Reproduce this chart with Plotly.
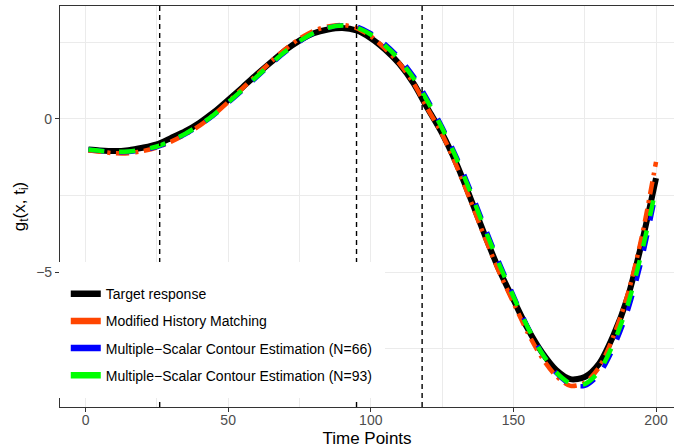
import plotly.graph_objects as go

# ---------------- data ----------------
time_points = [1, 5, 10, 15, 20, 25, 30, 35, 40, 45, 50, 55, 60, 65, 70, 75, 80, 85, 90, 95,
               100, 105, 110, 115, 120, 125, 130, 135, 140, 145, 150, 155, 160, 165, 170, 175,
               180, 185, 190, 195, 200]

target_response = [-1.00, -1.03, -1.05, -1.02, -0.94, -0.83, -0.62, -0.40, -0.12, 0.22,
                   0.62, 1.03, 1.45, 1.85, 2.24, 2.56, 2.80, 2.92, 2.97, 2.89,
                   2.64, 2.27, 1.80, 1.16, 0.33, -0.47, -1.45, -2.60, -3.80, -4.93,
                   -5.90, -6.85, -7.62, -8.20, -8.50, -8.43, -8.00, -7.08, -5.85, -4.05,
                   -1.93]

modified_hm = [-1.02, -1.07, -1.12, -1.12, -1.05, -0.93, -0.74, -0.50, -0.22, 0.14,
               0.55, 1.00, 1.43, 1.87, 2.28, 2.62, 2.88, 3.02, 3.07, 2.97,
               2.70, 2.30, 1.82, 1.17, 0.32, -0.50, -1.52, -2.68, -3.88, -5.00,
               -6.00, -6.98, -7.80, -8.40, -8.72, -8.62, -8.12, -7.12, -5.75, -3.85,
               -1.40]

msce_66 = [-1.00, -1.04, -1.08, -1.08, -1.02, -0.92, -0.73, -0.50, -0.22, 0.12,
           0.52, 0.93, 1.36, 1.78, 2.18, 2.52, 2.80, 2.98, 3.06, 3.02,
           2.80, 2.45, 2.00, 1.40, 0.62, -0.25, -1.22, -2.33, -3.52, -4.68,
           -5.76, -6.78, -7.64, -8.30, -8.68, -8.72, -8.35, -7.50, -6.30, -4.60,
           -2.40]

msce_93 = [-1.00, -1.04, -1.07, -1.06, -1.00, -0.90, -0.71, -0.48, -0.20, 0.14,
           0.54, 0.95, 1.38, 1.80, 2.20, 2.54, 2.81, 2.98, 3.05, 2.99,
           2.76, 2.40, 1.94, 1.33, 0.56, -0.30, -1.28, -2.40, -3.60, -4.74,
           -5.80, -6.80, -7.65, -8.28, -8.64, -8.66, -8.25, -7.35, -6.10, -4.35,
           -2.25]

change_points = [26, 95, 118]

series_names = ["Target response", "Modified History Matching",
                "Multiple\u2212Scalar Contour Estimation (N=66)",
                "Multiple\u2212Scalar Contour Estimation (N=93)"]
series_values = [target_response, modified_hm, msce_66, msce_93]
series_colors = ["#000000", "#FF4500", "#0000FF", "#00FF00"]
series_widths = [6, 4.5, 4.5, 4.5]
series_dash = ["solid", "13px,6px,3px,6px", "16px,15px", "16px,15px"]

x_tick_vals = [0, 50, 100, 150, 200]
y_tick_vals = [-5, 0]

FONT = "Liberation Sans, Arial, Helvetica, sans-serif"

fig = go.Figure()

for name, vals, col, w, d in zip(series_names, series_values, series_colors, series_widths, series_dash):
    fig.add_trace(go.Scatter(x=time_points, y=vals, mode="lines", name=name,
                             line=dict(color=col, width=w, dash=d, shape="spline", smoothing=0.8),
                             showlegend=False, hoverinfo="skip"))

# legend entries (solid keys, as in the reference)
for i, (name, col) in enumerate(zip(series_names, series_colors)):
    fig.add_trace(go.Scatter(x=[None], y=[None], mode="lines", name=name,
                             line=dict(color=col, width=6.5), legendgroup=f"g{i}",
                             showlegend=True))

for cp in change_points:
    fig.add_vline(x=cp, line=dict(color="black", width=1.4, dash="5px,4px"), layer="above")

grid = "#EBEBEB"
fig.update_layout(
    width=674, height=448,
    margin=dict(l=60, r=0, t=6, b=41),
    paper_bgcolor="white", plot_bgcolor="white",
    font=dict(family=FONT, size=14, color="#4D4D4D"),
    showlegend=True,
    legend=dict(x=-0.002, xanchor="left", y=0.3616, yanchor="top",
                bgcolor="white", bordercolor="white", borderwidth=7,
                font=dict(family=FONT, size=14, color="black"),
                traceorder="grouped", tracegroupgap=6,
                title=dict(text="&nbsp;", font=dict(size=7)),
                itemwidth=30),
    xaxis=dict(range=[-8.95, 206.3], tickvals=x_tick_vals, ticks="outside", ticklen=4,
               tickcolor="#333333", tickwidth=1,
               showgrid=True, gridcolor=grid, gridwidth=1.1,
               minor=dict(dtick=25, tick0=0, showgrid=True, gridcolor=grid, gridwidth=0.6),
               showline=True, linecolor="#333333", linewidth=1.1, mirror=True,
               zeroline=False,
               tickfont=dict(size=14, color="#4D4D4D"),
               ticklabelstandoff=-4,
               title=dict(text="Time Points", font=dict(size=17, color="black"), standoff=6),
               automargin=False),
    yaxis=dict(range=[-9.41, 3.69], tickvals=y_tick_vals, ticks="outside", ticklen=4,
               tickcolor="#333333", tickwidth=1,
               showgrid=True, gridcolor=grid, gridwidth=1.1,
               minor=dict(dtick=2.5, tick0=0, showgrid=True, gridcolor=grid, gridwidth=0.6),
               showline=True, linecolor="#333333", linewidth=1.1, mirror=False,
               zeroline=False,
               tickfont=dict(size=14, color="#4D4D4D"),
               title=dict(text="g<sub>t</sub>(x, t<sub>i</sub>)", font=dict(size=17, color="black"), standoff=6),
               automargin=False),
)

fig.write_html("out.html", config={"displayModeBar": False},
               post_script="document.body.style.margin='0px';document.body.style.overflow='hidden';")
